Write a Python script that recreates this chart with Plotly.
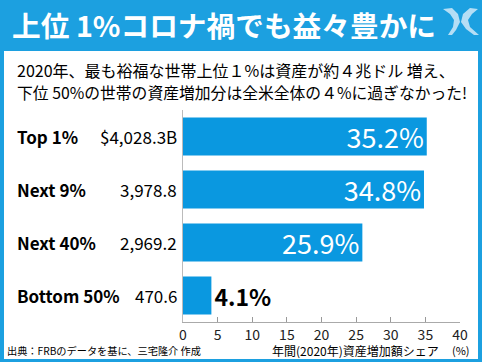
import plotly.graph_objects as go

W, H = 482, 362

categories = ["Top 1%", "Next 9%", "Next 40%", "Bottom 50%"]
amounts = ["$4,028.3B", "3,978.8", "2,969.2", "470.6"]
shares = [35.2, 34.8, 25.9, 4.1]
tick_vals = [0, 5, 10, 15, 20, 25, 30, 35, 40]

title_text = "上位 1%コロナ禍でも益々豊かに"
subtitle_lines = [
    "2020年、最も裕福な世帯上位１%は資産が約４兆ドル 増え、",
    "下位 50%の世帯の資産増加分は全米全体の４%に過ぎなかった!",
]
axis_title = "年間(2020年)資産増加額シェア"
unit_text = "(%)"
source_text = "出典：FRBのデータを基に、三宅隆介 作成"

BLUE = "#1ca0e0"
BAR = "#0a98e0"
FONT = "Noto Sans CJK JP"


def px(x):
    return x / W


def py(y):
    return 1 - y / H


text_labels = [f"{v}%" if i < 3 else f"<b>{v}%</b>" for i, v in enumerate(shares)]
positions = ["inside", "inside", "inside", "outside"]
colors = ["white", "white", "white", "black"]

fig = go.Figure(
    go.Bar(
        x=shares,
        y=categories,
        orientation="h",
        marker=dict(color=BAR, line=dict(width=0)),
        text=text_labels,
        textposition=positions,
        insidetextanchor="end",
        constraintext="none",
        textangle=0,
        textfont=dict(family=FONT, size=27, color=colors),
        outsidetextfont=dict(family=FONT, size=23, color="black"),
        insidetextfont=dict(family=FONT, size=27, color="white"),
        cliponaxis=False,
        hoverinfo="skip",
    )
)

shapes = [
    dict(type="rect", xref="paper", yref="paper",
         x0=px(4), x1=px(478), y0=py(359), y1=py(51),
         fillcolor="white", line=dict(width=0), layer="below"),
]


def path_from(points):
    return "M " + " L ".join(f"{px(x):.5f},{py(y):.5f}" for x, y in points) + " Z"


logo_left = [(443, 9), (452, 8), (458, 14), (460, 22), (456, 30), (452, 35),
             (448, 35), (453, 27), (454, 20), (450, 14)]
logo_right = [(478, 9), (470, 8), (463, 14), (461, 22), (466, 29), (474, 35),
              (479, 35), (470, 27), (468, 20), (472, 14)]
for pts in (logo_left, logo_right):
    shapes.append(dict(type="path", xref="paper", yref="paper",
                       path=path_from(pts), fillcolor="#b5def5",
                       line=dict(width=0)))

annotations = [
    dict(text=f"<b>{title_text}</b>", x=px(10), y=py(25), xref="paper", yref="paper",
         xanchor="left", yanchor="middle", showarrow=False,
         font=dict(family=FONT, size=28.7, color="white")),
    dict(text=subtitle_lines[0], x=px(15), y=py(70), xref="paper", yref="paper",
         xanchor="left", yanchor="middle", showarrow=False,
         font=dict(family=FONT, size=16, color="black")),
    dict(text=subtitle_lines[1], x=px(15), y=py(93), xref="paper", yref="paper",
         xanchor="left", yanchor="middle", showarrow=False,
         font=dict(family=FONT, size=15.8, color="black")),
    dict(text=axis_title, x=px(441), y=py(350.5), xref="paper", yref="paper",
         xanchor="right", yanchor="middle", showarrow=False,
         font=dict(family=FONT, size=12, color="black")),
    dict(text=unit_text, x=px(472), y=py(349.5), xref="paper", yref="paper",
         xanchor="right", yanchor="middle", showarrow=False,
         font=dict(family=FONT, size=11, color="black")),
    dict(text=source_text, x=px(5), y=py(350.5), xref="paper", yref="paper",
         xanchor="left", yanchor="middle", showarrow=False,
         font=dict(family=FONT, size=10.2, color="black")),
]

for cat, amt in zip(categories, amounts):
    annotations.append(dict(text=cat, x=px(15), y=cat, xref="paper", yref="y",
                            xanchor="left", yanchor="middle", showarrow=False,
                            font=dict(family=FONT, size=17, color="black", weight=600)))
    annotations.append(dict(text=amt, x=px(179), y=cat, xref="paper", yref="y",
                            xanchor="right", yanchor="middle", showarrow=False,
                            font=dict(family=FONT, size=17, color="black")))

fig.update_layout(
    width=W, height=H,
    margin=dict(l=0, r=0, t=0, b=0, autoexpand=False),
    paper_bgcolor=BLUE,
    plot_bgcolor="rgba(0,0,0,0)",
    showlegend=False,
    bargap=0.283,
    shapes=shapes,
    annotations=annotations,
    xaxis=dict(domain=[px(183), px(460)], range=[0, 40], tickvals=tick_vals,
               automargin=False,
               ticks="inside", ticklen=5, tickcolor="#999999", tickwidth=1,
               showline=True, linecolor="#aaaaaa", linewidth=1,
               showgrid=False, zeroline=False,
               tickfont=dict(family=FONT, size=14, color="#222222")),
    yaxis=dict(domain=[py(322), py(110)], range=[3.5, -0.5],
               automargin=False,
               categoryorder="array", categoryarray=categories,
               showticklabels=False, ticks="", showgrid=False, zeroline=False,
               showline=True, linecolor="#bbbbbb", linewidth=1),
    font=dict(family=FONT),
)

fig.write_html(
    "out.html",
    config={"displayModeBar": False},
    post_script="document.body.style.margin='0';document.body.style.padding='0';",
)
